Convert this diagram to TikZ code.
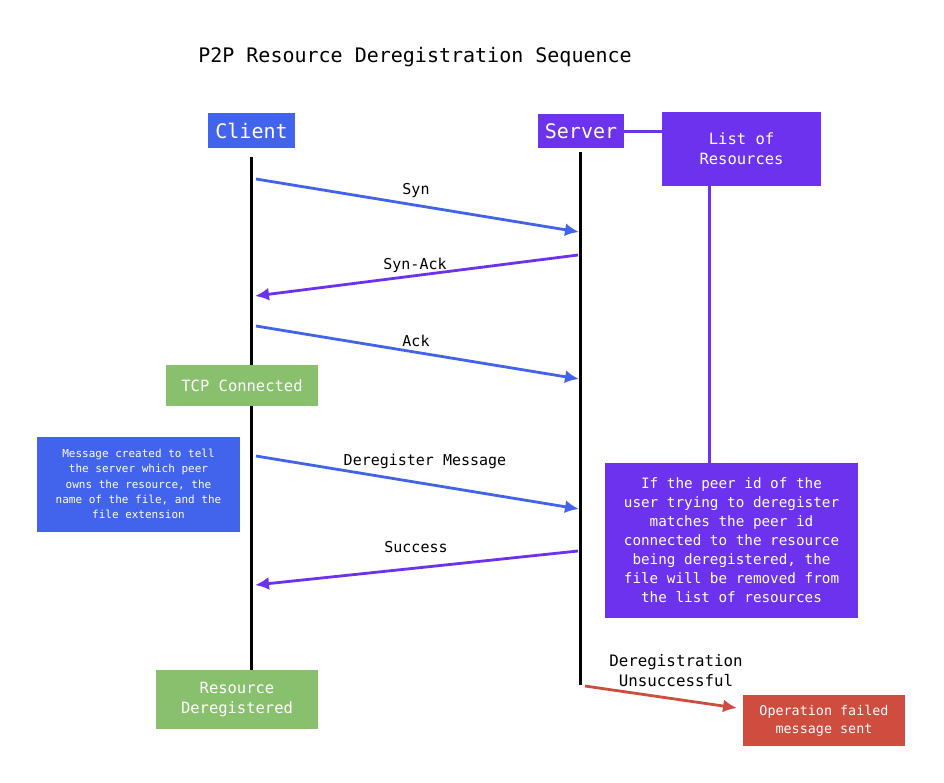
\documentclass[tikz,border=0pt]{standalone}
\usepackage{fontspec}
\setmonofont{DejaVu Sans Mono}
\usetikzlibrary{arrows.meta, positioning, calc}

\definecolor{clientblue}{RGB}{66,99,235}
\definecolor{serverpurple}{RGB}{108,50,238}
\definecolor{okgreen}{RGB}{137,192,110}
\definecolor{failred}{RGB}{206,77,63}

\begin{document}
\begin{tikzpicture}[x=1pt, y=-1pt,
  every node/.style={font=\ttfamily},
  box/.style={inner sep=0pt, text=white, align=center},
  lifeline/.style={line width=3pt, black},
  msg/.style={line width=2.8pt, -{Latex[length=14pt, width=13pt]}},
  lbl/.style={font=\ttfamily\fontsize{15}{20}\selectfont, black, align=center}]
\useasboundingbox (0,0) rectangle (944,782);

% Title
\node[font=\ttfamily\fontsize{20}{24}\selectfont] (title) at (415,57) {P2P Resource Deregistration Sequence};

% Participants
\node[box, fill=clientblue, minimum width=87pt, minimum height=35pt,
  font=\ttfamily\fontsize{20}{24}\selectfont] (client) at (251.5,130.5) {Client};
\node[box, fill=serverpurple, minimum width=86pt, minimum height=34pt,
  font=\ttfamily\fontsize{20}{24}\selectfont] (server) at (581,131) {Server};
\node[box, fill=serverpurple, minimum width=159pt, minimum height=74pt,
  font=\ttfamily\fontsize{15.5}{20}\selectfont] (list) at (741.5,148.5) {List of\\Resources};
\draw[serverpurple, line width=3pt] (server.east) -- (list.west |- server.east);

% Boxes on the lifelines
\node[box, fill=okgreen, minimum width=152pt, minimum height=41pt,
  font=\ttfamily\fontsize{15.5}{20}\selectfont] (tcp) at (242,385.5) {TCP Connected};
\node[box, fill=okgreen, minimum width=162pt, minimum height=59pt,
  font=\ttfamily\fontsize{15.5}{20}\selectfont] (done) at (237,699.5) {Resource\\Deregistered};

% Notes
\node[box, fill=clientblue, minimum width=203pt, minimum height=95pt,
  font=\ttfamily\fontsize{11}{15.3}\selectfont] (note) at (138.5,484)
  {Message created to tell\\the server which peer\\owns the resource, the\\name of the file, and the\\file extension};
\node[box, fill=serverpurple, minimum width=253pt, minimum height=155pt,
  font=\ttfamily\fontsize{14.3}{19}\selectfont] (rule) at (731.5,540.5)
  {If the peer id of the\\user trying to deregister\\matches the peer id\\connected to the resource\\being deregistered, the\\file will be removed from\\the list of resources};
\draw[serverpurple, line width=3pt] (list.south -| 709,0) -- (rule.north -| 709,0);

\node[box, fill=failred, minimum width=162pt, minimum height=51pt,
  font=\ttfamily\fontsize{13.4}{18}\selectfont] (fail) at (824,720.5)
  {Operation failed\\message sent};

% Lifelines
\coordinate (cltop) at (251,157);
\coordinate (srvtop) at (580,152);
\coordinate (srvend) at (580,685);
\draw[lifeline] (cltop) -- (tcp.north -| cltop);
\draw[lifeline] (tcp.south -| cltop) -- (done.north -| cltop);
\draw[lifeline] (srvtop) -- (srvend);

% Messages
\coordinate (c1) at (256,179); \coordinate (s1) at (579,232);
\coordinate (s2) at (578,255); \coordinate (c2) at (255,296);
\coordinate (c3) at (256,326); \coordinate (s3) at (579,379);
\coordinate (c4) at (256,456); \coordinate (s4) at (579,509);
\coordinate (s5) at (578,551); \coordinate (c5) at (255,585);
\coordinate (s6) at (585,686); \coordinate (f6) at (737,708);

\draw[msg, clientblue] (c1) -- (s1);
\node[lbl] (synl) at (416,190) {Syn};
\draw[msg, serverpurple] (s2) -- (c2);
\node[lbl] (synackl) at (415,265) {Syn-Ack};
\draw[msg, clientblue] (c3) -- (s3);
\node[lbl] (ackl) at (416,341) {Ack};
\draw[msg, clientblue] (c4) -- (s4);
\node[lbl] (deregl) at (425,461) {Deregister Message};
\draw[msg, serverpurple] (s5) -- (c5);
\node[lbl] (succl) at (416,547) {Success};
\draw[msg, failred] (s6) -- (f6);
\node[lbl, font=\ttfamily\fontsize{15.8}{20}\selectfont] (unsuccl) at (676,671) {Deregistration\\Unsuccessful};
\end{tikzpicture}
\end{document}
